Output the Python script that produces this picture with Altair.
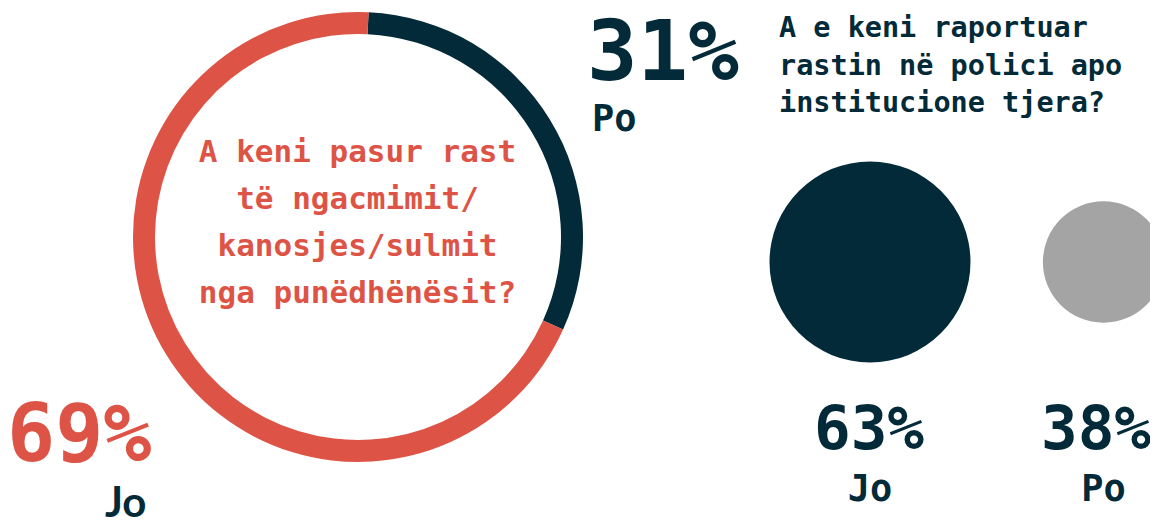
import math
import altair as alt
import pandas as pd

# ---------------- data ----------------
ring_cats = ["Po", "Jo"]
ring_vals = [31, 69]
report_cats = ["Jo", "Po"]
report_vals = [63, 38]
question_1 = ["A keni pasur rast", "të ngacmimit/", "kanosjes/sulmit", "nga punëdhënësit?"]
question_2 = ["A e keni raportuar", "rastin në polici apo", "institucione tjera?"]

# ---------------- style ----------------
RED = "#DD5446"
NAVY = "#032A38"
GRAY = "#A4A4A4"
MONO = "DejaVu Sans Mono"
BIG = "DejaVu Sans Mono"
ROUND = "Lato"
M = 8  # page margin

ring = pd.DataFrame({"cat": ring_cats, "v": ring_vals, "ord": list(range(len(ring_cats)))})
rep = pd.DataFrame({"cat": report_cats, "v": report_vals})
q1 = pd.DataFrame({"t": ["\n".join(question_1)]})
q2 = pd.DataFrame({"t": ["\n".join(question_2)]})

start = 0.047
donut = alt.Chart(ring).mark_arc(outerRadius=225, innerRadius=203).encode(
    theta=alt.Theta("v:Q", stack=True,
                    scale=alt.Scale(domain=[0, 100], range=[start, start + 2 * math.pi])),
    color=alt.Color("cat:N", scale=alt.Scale(domain=["Po", "Jo"], range=[NAVY, RED]), legend=None),
    order=alt.Order("ord:Q"),
    x=alt.value(358 - M),
    y=alt.value(237 - M),
)

q1_text = alt.Chart(q1).mark_text(
    font=MONO, fontWeight="bold", fontSize=31, color=RED, align="center",
    baseline="alphabetic", lineBreak="\n", lineHeight=47,
).encode(text="t:N", x=alt.value(357.5 - M), y=alt.value(162 - M))

q2_text = alt.Chart(q2).mark_text(
    font=MONO, fontWeight="bold", fontSize=28.5, color=NAVY, align="left",
    baseline="alphabetic", lineBreak="\n", lineHeight=37.5,
).encode(text="t:N", x=alt.value(779 - M), y=alt.value(37 - M))

ring_pct = alt.Chart(ring).transform_calculate(lab="datum.v + '%'")
po_pct = ring_pct.transform_filter("datum.cat == 'Po'").mark_text(
    font=BIG, fontWeight="bold", fontSize=84, color=NAVY, align="left", baseline="alphabetic"
).encode(text="lab:N", x=alt.value(587 - M), y=alt.value(80 - M))
po_lab = alt.Chart(ring).transform_filter("datum.cat == 'Po'").mark_text(
    font=MONO, fontWeight="bold", fontSize=37, color=NAVY, align="left", baseline="alphabetic"
).encode(text="cat:N", x=alt.value(592 - M), y=alt.value(131 - M))
jo_pct = ring_pct.transform_filter("datum.cat == 'Jo'").mark_text(
    font=BIG, fontWeight="bold", fontSize=80, color=RED, align="left", baseline="alphabetic"
).encode(text="lab:N", x=alt.value(7 - M), y=alt.value(461 - M))
jo_lab = alt.Chart(ring).transform_filter("datum.cat == 'Jo'").mark_text(
    font=ROUND, fontWeight="bold", fontSize=42, color=NAVY, align="left", baseline="alphabetic"
).encode(text="cat:N", x=alt.value(105 - M), y=alt.value(517 - M))

# the two report circles sit on a small index scale (1 = Jo, 2 = Po)
rep_base = alt.Chart(rep).transform_window(i="row_number()")
xsc = alt.Scale(domain=[1, 2], range=[870 - M, 1103.5 - M], zero=False, nice=False)
xenc = alt.X("i:Q", scale=xsc, axis=None)
xsc_pct = alt.Scale(domain=[1, 2], range=[869 - M, 1096 - M], zero=False, nice=False)
circles = rep_base.mark_circle(opacity=1).encode(
    x=xenc,
    y=alt.value(262 - M),
    size=alt.Size("v:Q", scale=alt.Scale(type="pow", exponent=2, domain=[0, 63], range=[0, 40400]),
                  legend=None),
    color=alt.Color("cat:N", scale=alt.Scale(domain=report_cats, range=[NAVY, GRAY]), legend=None),
)
rep_pct = rep_base.transform_calculate(lab="datum.v + '%'").mark_text(
    font=BIG, fontWeight="bold", fontSize=61, color=NAVY, align="center", baseline="alphabetic",
).encode(text="lab:N", x=alt.X("i:Q", scale=xsc_pct, axis=None), y=alt.value(449 - M))
rep_lab = rep_base.mark_text(
    font=MONO, fontWeight="bold", fontSize=37, color=NAVY, align="center", baseline="alphabetic"
).encode(text="cat:N", x=xenc, y=alt.value(501 - M))

chart = alt.layer(
    donut, q1_text, q2_text, po_pct, po_lab, jo_pct, jo_lab, circles, rep_pct, rep_lab
).resolve_scale(
    color="independent", size="independent", theta="independent", x="independent"
).properties(
    width=1142, height=514, padding=0, autosize=alt.AutoSizeParams(type="none"),
    background="white",
).configure_view(stroke=None)

chart.save("out.html", embed_options={"renderer": "svg", "actions": False})
